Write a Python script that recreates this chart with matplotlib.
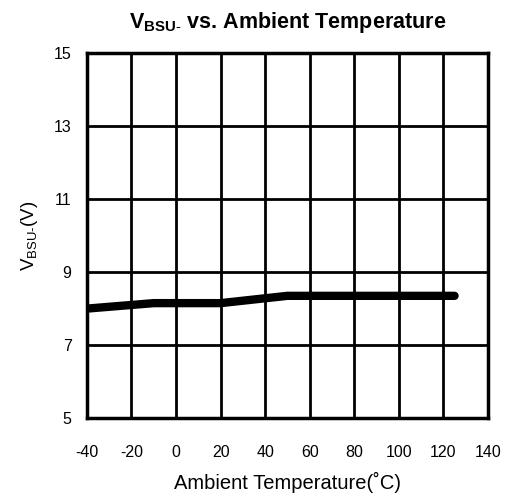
import matplotlib
matplotlib.use("Agg")
import matplotlib.pyplot as plt

plt.rcParams['font.family'] = ['Liberation Sans', 'DejaVu Sans']
plt.rcParams['mathtext.fontset'] = 'custom'
plt.rcParams['mathtext.rm'] = 'Liberation Sans'
plt.rcParams['mathtext.it'] = 'Liberation Sans'
plt.rcParams['mathtext.bf'] = 'Liberation Sans:bold'
plt.rcParams['axes.unicode_minus'] = False

# Data: V_BSU- versus ambient temperature
temperature = [-40, -10, 20, 50, 125]
v_bsu = [8.0, 8.15, 8.15, 8.35, 8.35]

x_ticks = [-40, -20, 0, 20, 40, 60, 80, 100, 120, 140]
y_ticks = [5, 7, 9, 11, 13, 15]

fig = plt.figure(figsize=(5.11, 4.96), dpi=100)
ax = fig.add_axes([0.170, 0.157, 0.785, 0.736])

ax.plot(temperature, v_bsu, color='black', linewidth=6, solid_capstyle='round', zorder=3)

ax.set_xlim(-40, 140)
ax.set_ylim(5, 15)
ax.set_xticks(x_ticks)
ax.set_yticks(y_ticks)
ax.grid(True, color='black', linewidth=2)
for s in ax.spines.values():
    s.set_linewidth(2.5)
ax.tick_params(axis='both', length=0, labelsize=11.5)
ax.tick_params(axis='x', pad=19)
ax.tick_params(axis='y', pad=11)

ax.set_title(r'V$_{\mathbf{BSU}\text{-}}$ vs. Ambient Temperature', fontsize=15.5, fontweight='bold', pad=18)
ax.set_xlabel('Ambient Temperature(˚C)', fontsize=14.5, labelpad=9)
ax.set_ylabel(r'$\mathregular{V_{\text{BSU-}}}$(V)', fontsize=13.5, labelpad=10)

fig.savefig('out.png', dpi=100)
